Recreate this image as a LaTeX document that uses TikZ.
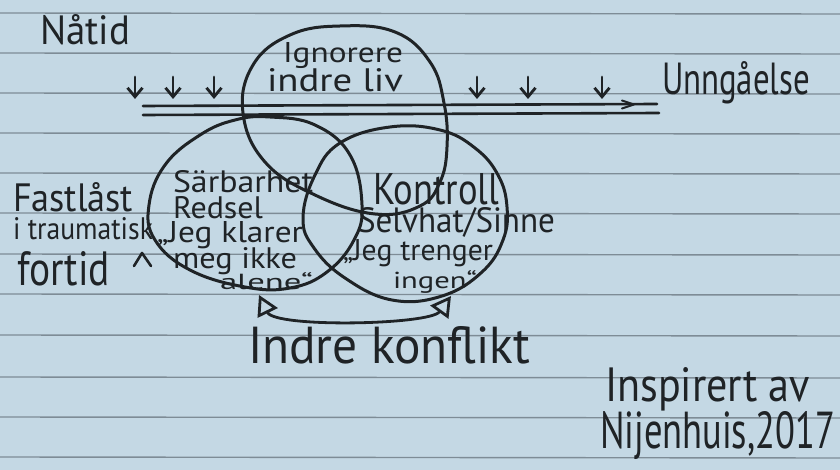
\documentclass[tikz,border=0pt]{standalone}
\usepackage{fontspec}
\setmainfont{PT Sans}
\usetikzlibrary{arrows.meta}
\definecolor{paper}{HTML}{C4D8E4}
\definecolor{rulecol}{HTML}{7E8C96}
\definecolor{ink}{HTML}{1F2326}
\newcommand\hw[3]{\resizebox{#1pt}{#2pt}{#3}}
\begin{document}
\begin{tikzpicture}[x=1pt,y=-1pt,
  txt/.style={anchor=base west,inner sep=0pt,outer sep=0pt,text=ink},
  ring/.style={draw=ink,line width=3pt},
  pen/.style={draw=ink,line width=2.8pt,line cap=round,line join=round},
  downarr/.style={pen,-{Straight Barb[length=9pt,width=15pt]}},
  bothtri/.style={pen,{Triangle[open,length=20pt,width=22pt]}-{Triangle[open,length=20pt,width=22pt]}},
]
\fill[paper] (0,0) rectangle (840,470);
\useasboundingbox (0,0) rectangle (840,470);
\foreach \y in {13,53,93,133,173,213,254,294,335,377,417,457}
  \draw[rulecol,line width=1.4pt] (0,\y) -- (840,\y+1);

% circles
\draw[ring] plot[smooth cycle,tension=0.7] coordinates {(340,26) (395,32) (430,62) (444,103) (447,147) (440,182) (420,206) (375,214) (315,195) (265,162) (243,113) (253,65) (290,35)};
\draw[ring] plot[smooth cycle,tension=0.7] coordinates {(270,117) (315,125) (350,155) (362,205) (354,240) (327,272) (290,288) (245,287) (190,270) (155,240) (149,205) (165,165) (200,135) (235,120)};
\draw[ring] plot[smooth cycle,tension=0.7] coordinates {(390,127) (440,130) (475,148) (498,175) (507,207) (503,240) (482,272) (442,296) (392,300) (345,278) (314,248) (303,218) (315,175) (340,143)};

% double line (Unngaelse)
\coordinate (l1a) at (143,106); \coordinate (l1b) at (657,104);
\coordinate (l2a) at (143,115); \coordinate (l2b) at (659,113);
\draw[pen,line width=2.6pt] (l1a) -- (l1b);
\draw[pen,line width=2.6pt] (l2a) -- (l2b);
\coordinate (tipa) at (622,100.5); \coordinate (tipb) at (634,104.5); \coordinate (tipc) at (622,108.5);
\draw[pen,line width=2pt] (tipa) -- (tipb) -- (tipc);

% down arrows
\foreach \x/\n in {135/a,173/b,214/c,477/d,528/e,602/f}{
  \coordinate (s\n) at (\x,77); \coordinate (e\n) at (\x,99);
  \draw[downarr] (s\n) -- (e\n);
}

% caret mark
\coordinate (c1) at (134,266); \coordinate (c2) at (142,253); \coordinate (c3) at (151,266);
\draw[pen,line width=2.6pt] (c1) -- (c2) -- (c3);

% conflict arrow
\coordinate (la) at (259,295); \coordinate (ra) at (451,296);
\draw[bothtri] (la) .. controls (275,328) and (430,325) .. (ra);

% texts
\node[txt] (natid) at (40,45) {\hw{90}{30}{Nåtid}};
\node[txt] (ign) at (283,63) {\hw{120}{20}{Ignorere}};
\node[txt] (indre) at (267,92) {\hw{136}{23}{indre liv}};
\node[txt] (unng) at (662,95) {\hw{148}{33}{Unngåelse}};
\node[txt] (fast) at (13,212) {\hw{120}{29}{Fastlåst}};
\node[txt] (itr) at (13,240) {\hw{140}{22}{i traumatisk}};
\node[txt] (fort) at (17,285) {\hw{93}{34}{fortid}};
\node[txt] (sar) at (173,193) {\hw{140}{22}{Särbarhet}};
\node[txt] (red) at (173,219) {\hw{90}{22}{Redsel}};
\node[txt] (jk) at (157,243) {\hw{146}{21}{„Jeg klarer}};
\node[txt] (mi) at (173,268) {\hw{124}{21}{meg ikke}};
\node[txt] (al) at (220,290) {\hw{93}{17}{alene“}};
\node[txt] (kon) at (373,205) {\hw{126}{31}{Kontroll}};
\node[txt] (sel) at (358,233) {\hw{197}{25}{Selvhat/Sinne}};
\node[txt] (jt) at (343,261) {\hw{150}{21}{„Jeg trenger}};
\node[txt] (ing) at (393,288) {\hw{84}{18}{ingen“}};
\node[txt] (ik) at (248,363) {\hw{282}{37}{Indre konflikt}};
\node[txt] (insp) at (605,401) {\hw{205}{34}{Inspirert av}};
\node[txt] (nij) at (600,448) {\hw{235}{37}{Nijenhuis,2017}};
\end{tikzpicture}
\end{document}
